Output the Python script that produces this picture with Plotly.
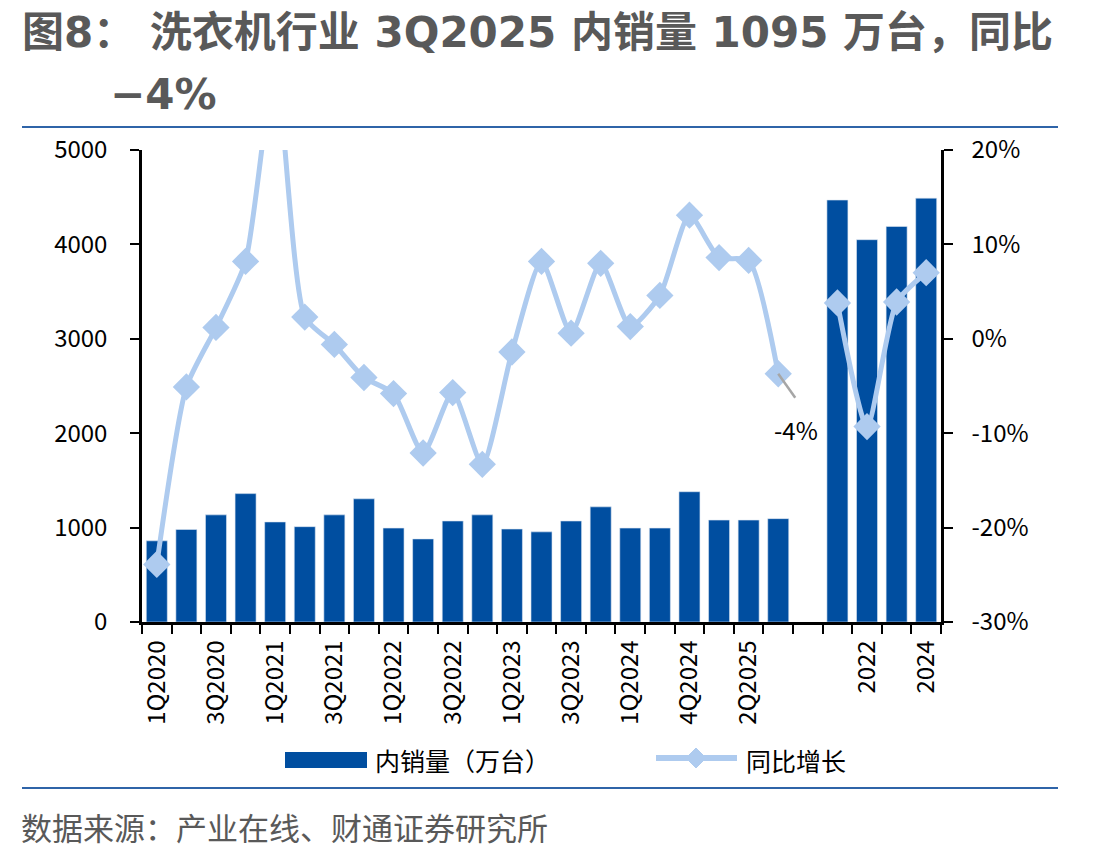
import plotly.graph_objects as go

categories = ["1Q2020", "2Q2020", "3Q2020", "4Q2020",
              "1Q2021", "2Q2021", "3Q2021", "4Q2021",
              "1Q2022", "2Q2022", "3Q2022", "4Q2022",
              "1Q2023", "2Q2023", "3Q2023", "4Q2023",
              "1Q2024", "3Q2024", "4Q2024",
              "1Q2025", "2Q2025", "3Q2025",
              " ",
              "2021", "2022", "2023", "2024"]

sales = [860, 980, 1135, 1360,
         1060, 1010, 1135, 1305,
         995, 880, 1070, 1135,
         985, 955, 1070, 1220,
         995, 995, 1380,
         1080, 1080, 1095,
         None,
         4470, 4050, 4190, 4490]

yoy = [-23.9, -5.1, 1.2, 8.2,
       29.0, 2.3, -0.6, -4.1,
       -5.8, -12.1, -5.7, -13.3,
       -1.4, 8.2, 0.6, 8.0,
       1.3, 4.6, 13.1,
       8.6, 8.3, -3.7,
       None,
       3.8, -9.3, 3.9, 7.0]

shown_labels = ["1Q2020", "3Q2020", "1Q2021", "3Q2021", "1Q2022", "3Q2022",
                "1Q2023", "3Q2023", "1Q2024", "4Q2024", "2Q2025", "2022", "2024"]
tick_text = [c if c in shown_labels else "" for c in categories]

left_ticks = [0, 1000, 2000, 3000, 4000, 5000]
right_ticks = [-30, -20, -10, 0, 10, 20]

BAR = "#004EA0"
LINE = "#AECBEF"
GREY = "#595959"
RULE = "#2F64A8"
FONT = "Noto Sans CJK SC"
TITLE_FONT = "DejaVu Sans, Noto Sans CJK SC"

fig = go.Figure()
fig.add_trace(go.Bar(x=categories, y=sales, name="内销量（万台）",
                     marker=dict(color=BAR, line=dict(color="#DCE6F2", width=0.6)),
                     yaxis="y", showlegend=False))
fig.add_trace(go.Scatter(x=categories, y=yoy, name="同比增长", yaxis="y2",
                         mode="lines+markers",
                         line=dict(color=LINE, width=5, shape="spline", smoothing=0.6),
                         marker=dict(symbol="diamond", size=21, color=LINE),
                         connectgaps=False, showlegend=False, cliponaxis=True))

axis_font = dict(family=FONT, size=24, color="#000000")
fig.update_layout(
    width=1109, height=856,
    margin=dict(l=142, r=168, t=150, b=234),
    plot_bgcolor="white", paper_bgcolor="white",
    bargap=0.29,
    font=dict(family=FONT, color="#000000"),
    xaxis=dict(type="category", categoryorder="array", categoryarray=categories,
               tickmode="array", tickvals=categories, ticktext=tick_text,
               tickson="boundaries", ticks="outside", ticklen=9, tickwidth=2,
               tickcolor="black", tickangle=-90, tickfont=axis_font,
               showline=True, linecolor="black", linewidth=2.5,
               showgrid=False, zeroline=False, range=[-0.5, 26.5],
               ticklabelstandoff=6),
    yaxis=dict(range=[0, 5000], tickvals=left_ticks, ticks="outside", ticklen=9,
               tickwidth=2, tickcolor="black", tickfont=axis_font,
               showline=True, linecolor="black", linewidth=2.5,
               showgrid=False, zeroline=False, ticklabelstandoff=18),
    yaxis2=dict(range=[-30, 20], tickvals=right_ticks,
                ticktext=[f"{v}%" for v in right_ticks],
                overlaying="y", side="right", ticks="outside", ticklen=9,
                tickwidth=2, tickcolor="black", tickfont=axis_font,
                showline=True, linecolor="black", linewidth=2.5,
                showgrid=False, zeroline=False, ticklabelstandoff=14),
)

# leader line and label for the latest YoY
fig.add_shape(type="line", xref="x", yref="y2",
              xsizemode="pixel", ysizemode="pixel",
              xanchor="3Q2025", yanchor=yoy[21],
              x0=0, x1=17, y0=0, y1=-24,
              line=dict(color="#A6A6A6", width=2.5))
fig.add_annotation(x="3Q2025", y=yoy[21], xref="x", yref="y2",
                   text="-4%", showarrow=False, xshift=18, yshift=-56,
                   font=dict(family=FONT, size=24, color="#000000"))

# title
fig.add_annotation(xref="paper", yref="paper", x=-0.1502, y=1.0,
                   xanchor="left", yanchor="middle", yshift=118, xshift=-2,
                   text="图8： 洗衣机行业 3Q2025 内销量 1095 万台，同比",
                   showarrow=False,
                   font=dict(family=TITLE_FONT, size=42, color=GREY, weight=600))
fig.add_annotation(xref="paper", yref="paper", x=-0.1502, y=1.0,
                   xanchor="left", yanchor="middle", yshift=56, xshift=86,
                   text="−4%",
                   showarrow=False,
                   font=dict(family=TITLE_FONT, size=42, color=GREY, weight=600))

# rules
def px_x(p):
    return (p - 142) / 799

def px_y(p):
    return (856 - 234 - p) / 472

for yy in [127, 788]:
    fig.add_shape(type="line", xref="paper", yref="paper",
                  x0=px_x(22), x1=px_x(1058), y0=px_y(yy), y1=px_y(yy),
                  line=dict(color=RULE, width=2))

# legend (drawn manually to match wide swatches)
fig.add_shape(type="rect", xref="paper", yref="paper",
              x0=px_x(285), x1=px_x(367), y0=px_y(768), y1=px_y(752),
              fillcolor=BAR, line=dict(width=0))
fig.add_annotation(xref="paper", yref="paper", x=px_x(373), y=px_y(760),
                   xanchor="left", yanchor="middle", showarrow=False,
                   text="内销量（万台）", font=dict(family=FONT, size=25, color="#000000"))
fig.add_shape(type="line", xref="paper", yref="paper",
              x0=px_x(656), x1=px_x(737), y0=px_y(758), y1=px_y(758),
              line=dict(color=LINE, width=6))
fig.add_shape(type="path", xref="paper", yref="paper",
              path=(f"M {px_x(696)},{px_y(748)} L {px_x(706)},{px_y(758)} "
                    f"L {px_x(696)},{px_y(768)} L {px_x(686)},{px_y(758)} Z"),
              fillcolor=LINE, line=dict(color=LINE, width=1))
fig.add_annotation(xref="paper", yref="paper", x=px_x(744), y=px_y(760),
                   xanchor="left", yanchor="middle", showarrow=False,
                   text="同比增长", font=dict(family=FONT, size=25, color="#000000"))

# source
fig.add_annotation(xref="paper", yref="paper", x=px_x(19), y=px_y(826),
                   xanchor="left", yanchor="middle", showarrow=False,
                   text="数据来源：产业在线、财通证券研究所",
                   font=dict(family=FONT, size=31, color=GREY))

fig.write_html("out.html")
